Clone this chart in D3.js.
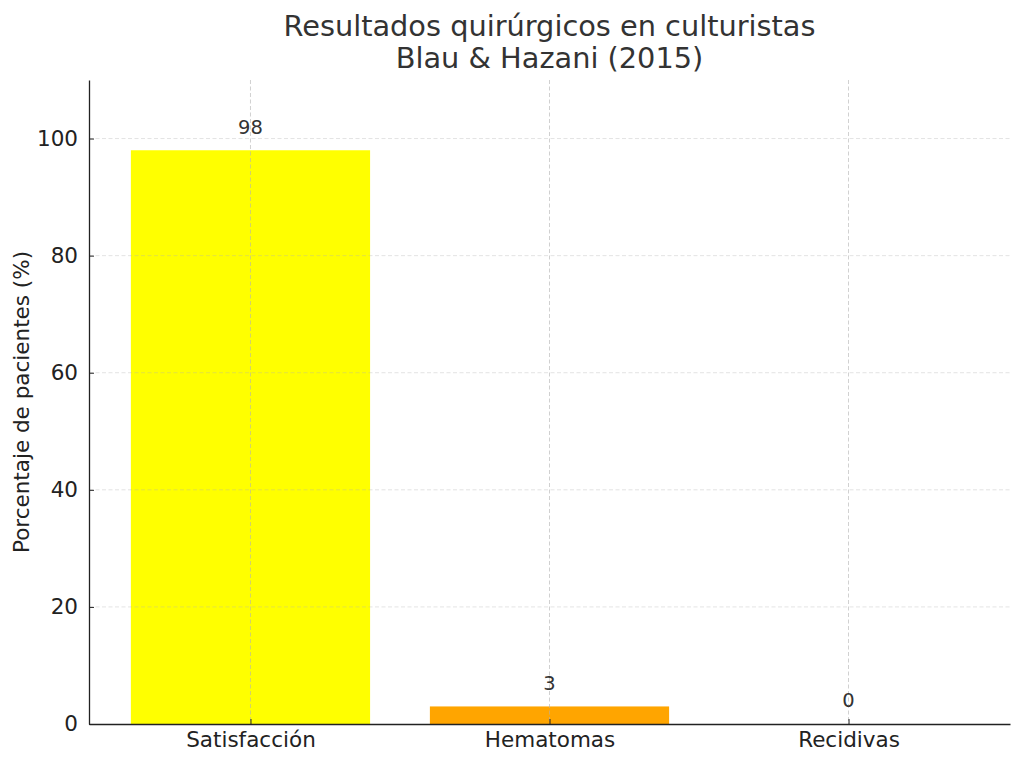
<!DOCTYPE html>
<html>
<head>
<meta charset="utf-8">
<script src="https://cdn.jsdelivr.net/npm/d3@7"></script>
<style>
  body { margin: 0; background: #fff; }
</style>
</head>
<body>
<div id="chart"></div>
<script>
// data
const categories = ['Satisfacción', 'Hematomas', 'Recidivas'];
const values = [98, 3, 0];
const barColors = ['yellow', 'orange', 'red'];
const yTicks = [0, 20, 40, 60, 80, 100];

const font = "'DejaVu Sans', 'Verdana', sans-serif";
const margin = { top: 80, right: 14, bottom: 41, left: 89 };
const width = 1024 - margin.left - margin.right;
const height = 765 - margin.top - margin.bottom;

const svg = d3.select('#chart').append('svg')
  .attr('width', 1024)
  .attr('height', 765)
  .style('font-family', font);

const g = svg.append('g')
  .attr('transform', `translate(${margin.left},${margin.top})`);

// matplotlib style: bar width 0.8, margins 0.05
const x = d3.scaleLinear()
  .domain([-0.54, categories.length - 1 + 0.54])
  .range([0, width]);
const bw = x(0.4) - x(-0.4);

const y = d3.scaleLinear()
  .domain([0, 110])
  .range([height, 0]);

// bars
g.selectAll('.bar')
  .data(values)
  .enter().append('rect')
  .attr('class', 'bar')
  .attr('x', (d, i) => x(i) - bw / 2)
  .attr('width', bw)
  .attr('y', d => y(d))
  .attr('height', d => height - y(d))
  .attr('fill', (d, i) => barColors[i]);

// grid (drawn over bars)
g.append('g')
  .selectAll('line')
  .data(yTicks.slice(1))
  .enter().append('line')
  .attr('x1', 0).attr('x2', width)
  .attr('y1', d => y(d)).attr('y2', d => y(d))
  .attr('stroke', '#b0b0b0')
  .attr('stroke-opacity', 0.35)
  .attr('stroke-dasharray', '4,2.5');

g.append('g')
  .selectAll('line')
  .data(categories)
  .enter().append('line')
  .attr('x1', (d, i) => x(i)).attr('x2', (d, i) => x(i))
  .attr('y1', 0).attr('y2', height)
  .attr('stroke', '#b0b0b0')
  .attr('stroke-opacity', 0.6)
  .attr('stroke-dasharray', '4,2.5');

// value labels
g.selectAll('.label')
  .data(values)
  .enter().append('text')
  .attr('x', (d, i) => x(i))
  .attr('y', d => y(d + 2) - 5)
  .attr('text-anchor', 'middle')
  .attr('fill', '#333')
  .style('font-family', font)
  .style('font-size', '19.5px')
  .text(d => d);

// x axis
const xAxis = g.append('g')
  .attr('transform', `translate(0,${height})`)
  .call(d3.axisBottom(x)
    .tickValues(d3.range(categories.length))
    .tickFormat(i => categories[i])
    .tickSizeInner(-5)
    .tickSizeOuter(0)
    .tickPadding(8));
xAxis.attr('font-family', null);
xAxis.select('.domain').attr('stroke', '#222').attr('stroke-width', 1.3);
xAxis.selectAll('.tick line').attr('stroke', '#222');
xAxis.selectAll('text')
  .style('font-family', font)
  .style('font-size', '21.5px')
  .attr('fill', '#222');

// y axis
const yAxis = g.append('g')
  .call(d3.axisLeft(y)
    .tickValues(yTicks)
    .tickSizeInner(-5)
    .tickSizeOuter(0)
    .tickPadding(11));
yAxis.attr('font-family', null);
yAxis.select('.domain').attr('stroke', '#222').attr('stroke-width', 1.3);
yAxis.selectAll('.tick line').attr('stroke', '#222');
yAxis.selectAll('text')
  .style('font-family', font)
  .style('font-size', '21.5px')
  .attr('fill', '#222');

// y label
svg.append('text')
  .attr('transform', `translate(29,${margin.top + height / 2}) rotate(-90)`)
  .attr('text-anchor', 'middle')
  .attr('fill', '#222')
  .style('font-family', font)
  .style('font-size', '21.5px')
  .text('Porcentaje de pacientes (%)');

// title
const title = svg.append('text')
  .attr('text-anchor', 'middle')
  .attr('fill', '#333')
  .style('font-family', font)
  .style('font-size', '28.8px');
title.append('tspan')
  .attr('x', margin.left + width / 2)
  .attr('y', 36)
  .text('Resultados quirúrgicos en culturistas');
title.append('tspan')
  .attr('x', margin.left + width / 2)
  .attr('y', 68)
  .text('Blau & Hazani (2015)');
</script>
</body>
</html>
